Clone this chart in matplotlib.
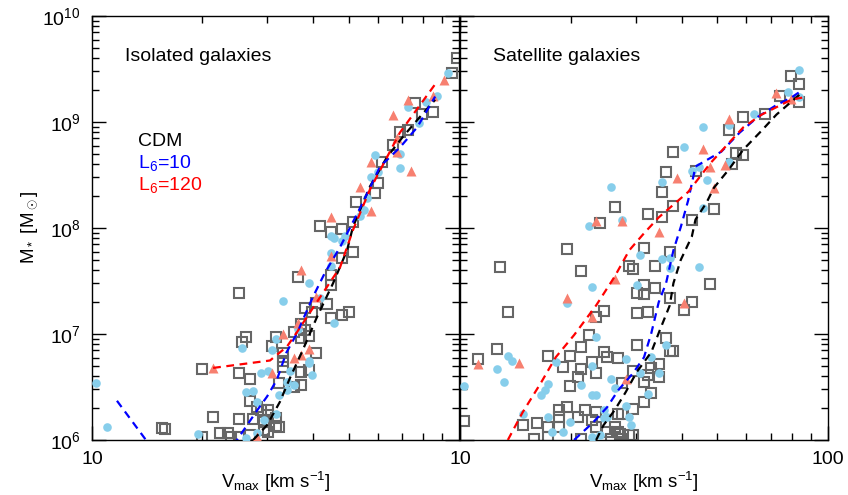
import numpy as np
import matplotlib
matplotlib.use("Agg")
import matplotlib.pyplot as plt
from matplotlib.ticker import LogLocator, NullFormatter, FixedLocator, FixedFormatter

plt.rcParams['font.family'] = ['Liberation Sans', 'DejaVu Sans']
plt.rcParams['mathtext.fontset'] = 'custom'
plt.rcParams['mathtext.rm'] = 'Liberation Sans'
plt.rcParams['mathtext.it'] = 'Liberation Sans:italic'

# values, stored as log10(Vmax [km/s]) and log10(M* [Msun])

# isolated galaxies
iso_cdm_lv = [1.19, 1.20, 1.30, 1.30, 1.33, 1.35, 1.37, 1.38, 1.40, 1.42, 1.41, 1.40, 1.43, 1.40, 1.44,
              1.43, 1.45, 1.46, 1.48, 1.48, 1.47, 1.50, 1.50, 1.51, 1.47, 1.48, 1.43, 1.40, 1.49, 1.50,
              1.52, 1.52, 1.52, 1.51, 1.55, 1.57, 1.58, 1.56, 1.58, 1.60, 1.61, 1.64, 1.65, 1.68, 1.70,
              1.57, 1.59, 1.61, 1.59, 1.57, 1.57, 1.55, 1.62, 1.65, 1.68, 1.71, 1.71, 1.68, 1.65, 1.65,
              1.72, 1.77, 1.78, 1.79, 1.82, 1.84, 1.86, 1.88, 1.90, 1.93, 1.98, 1.995]
iso_cdm_lm = [6.11, 6.10, 6.67, 6.03, 6.22, 6.07, 6.07, 6.03, 7.39, 6.97, 6.92, 6.63, 6.58, 6.20, 6.20,
              6.37, 6.31, 6.28, 6.28, 6.24, 6.17, 6.21, 6.13, 6.12, 6.09, 6.08, 6.05, 6.03, 6.89, 6.97,
              6.82, 6.75, 6.69, 6.54, 7.02, 6.96, 7.04, 7.54, 7.25, 7.21, 7.29, 7.28, 7.15, 7.18, 7.21,
              7.09, 6.98, 6.82, 6.66, 6.64, 6.52, 6.50, 8.02, 7.96, 7.99, 8.06, 7.77, 7.72, 7.56, 7.46,
              8.25, 8.33, 8.42, 8.62, 8.78, 8.91, 8.92, 9.18, 9.08, 9.09, 9.46, 9.60]

iso_l10_lv = [1.01, 1.04, 1.29, 1.41, 1.42, 1.44, 1.45, 1.46, 1.48, 1.42, 1.45, 1.47, 1.50, 1.49, 1.50,
              1.51, 1.52, 1.53, 1.53, 1.55, 1.54, 1.56, 1.59, 1.59, 1.59, 1.60, 1.62, 1.65, 1.65, 1.65,
              1.66, 1.68, 1.69, 1.66, 1.73, 1.74, 1.75, 1.76, 1.78, 1.77, 1.84, 1.84, 1.86, 1.89, 1.91,
              1.94, 1.97]
iso_l10_lm = [6.54, 6.12, 6.06, 6.87, 6.45, 6.46, 6.36, 6.63, 6.65, 6.02, 6.07, 6.19, 6.25, 6.85, 6.95,
              6.42, 7.31, 6.55, 6.47, 6.52, 6.65, 7.05, 7.48, 6.75, 6.73, 6.61, 7.34, 7.64, 7.76, 7.92,
              7.91, 7.88, 7.92, 7.10, 8.11, 8.17, 8.28, 8.48, 8.53, 8.69, 8.70, 8.57, 9.14, 8.99, 9.19,
              9.25, 9.46]

iso_l120_lv = [1.33, 1.45, 1.49, 1.52, 1.55, 1.56, 1.57, 1.57, 1.59, 1.61, 1.65, 1.65, 1.73, 1.76, 1.76,
               1.82, 1.83, 1.83, 1.86, 1.87, 1.93, 1.96]
iso_l120_lm = [6.68, 6.03, 6.63, 7.00, 6.77, 7.10, 7.60, 6.80, 6.86, 7.35, 7.74, 8.10, 8.39, 8.16, 8.62,
               9.07, 8.72, 8.85, 9.21, 8.54, 9.25, 9.40]

iso_cdm_line_lv = [1.439, 1.477, 1.512, 1.540, 1.572, 1.613, 1.657, 1.695, 1.711, 1.757, 1.804, 1.847, 1.894, 1.935]
iso_cdm_line_lm = [6.00, 6.14, 6.36, 6.59, 6.83, 7.16, 7.48, 7.79, 8.01, 8.39, 8.67, 8.86, 9.05, 9.21]
iso_l10_line_lv = [1.068, 1.147, 1.25, 1.35, 1.395, 1.450, 1.477, 1.504, 1.529, 1.559, 1.602, 1.635, 1.676,
                   1.738, 1.785, 1.839, 1.886, 1.935]
iso_l10_line_lm = [6.37, 6.00, 5.60, 5.70, 6.00, 6.28, 6.41, 6.57, 6.82, 7.01, 7.35, 7.58, 7.82,
                   8.24, 8.58, 8.76, 8.95, 9.24]
iso_l120_line_lv = [1.330, 1.485, 1.531, 1.559, 1.599, 1.676, 1.711, 1.757, 1.839, 1.940]
iso_l120_line_lm = [6.68, 6.75, 6.88, 7.02, 7.23, 7.63, 7.98, 8.36, 8.90, 9.38]

# satellite galaxies
sat_cdm_lv = [1.90, 1.92, 1.92, 1.87, 1.83, 1.77, 1.73, 1.75, 1.77, 1.74, 1.64, 1.58, 1.56, 1.55, 1.69,
              1.63, 1.58, 1.55, 1.51, 1.42, 1.38, 1.29, 1.50, 1.57, 1.68, 1.53, 1.46, 1.47, 1.33, 1.53,
              1.50, 1.48, 1.50, 1.57, 1.63, 1.61, 1.39, 1.48, 1.51, 1.11, 1.13, 1.37, 1.35, 1.33, 1.10,
              1.05, 1.01, 1.24, 1.30, 1.33, 1.32, 1.28, 1.30, 1.39, 1.40, 1.43, 1.48, 1.56, 1.57, 1.58,
              1.36, 1.37, 1.47, 1.54, 1.52, 1.54, 1.51, 1.50, 1.44, 1.52, 1.50, 1.47, 1.44, 1.43, 1.34,
              1.37, 1.36, 1.42, 1.46, 1.43, 1.40, 1.37, 1.435, 1.47, 1.17, 1.27, 1.29, 1.27, 1.32, 1.21,
              1.24, 1.27, 1.20, 1.24, 1.33, 1.41, 1.44]
sat_cdm_lm = [9.43, 9.36, 9.19, 9.25, 9.08, 9.05, 8.92, 8.71, 8.69, 8.60, 8.54, 8.72, 8.53, 8.34, 8.18,
              8.08, 8.21, 8.10, 8.13, 8.20, 8.05, 7.80, 7.81, 7.77, 7.47, 7.64, 7.64, 7.61, 7.59, 7.43,
              7.46, 7.39, 7.38, 7.34, 7.30, 7.23, 7.22, 7.20, 7.21, 7.63, 7.21, 7.16, 6.99, 6.88, 6.86,
              6.76, 6.18, 6.79, 6.79, 6.67, 6.59, 6.69, 6.51, 6.83, 6.78, 6.77, 6.90, 6.96, 6.84, 6.84,
              6.74, 6.63, 6.65, 6.72, 6.68, 6.59, 6.61, 6.55, 6.54, 6.44, 6.36, 6.29, 6.25, 6.25, 6.28,
              6.26, 6.19, 6.12, 6.05, 6.08, 6.08, 6.12, 6.06, 6.05, 6.14, 6.28, 6.31, 6.22, 6.22, 6.16,
              6.12, 6.12, 6.01, 6.03, 6.01, 6.01, 6.01]

sat_l10_lv = [1.92, 1.89, 1.92, 1.80, 1.73, 1.66, 1.61, 1.65, 1.63, 1.55, 1.67, 1.73, 1.66, 1.44, 1.41,
              1.35, 1.49, 1.55, 1.57, 1.57, 1.65, 1.36, 1.48, 1.29, 1.37, 1.56, 1.45, 1.52, 1.36, 1.49,
              1.54, 1.41, 1.42, 1.51, 1.45, 1.33, 1.36, 1.37, 1.46, 1.465, 1.39, 1.39, 1.40, 1.36, 1.38,
              1.13, 1.14, 1.10, 1.12, 1.01, 1.26, 1.24, 1.23, 1.22, 1.17, 1.24, 1.30, 1.25, 1.28]
sat_l10_lm = [9.49, 9.28, 9.24, 9.08, 8.97, 8.95, 8.76, 8.58, 8.54, 8.43, 8.45, 8.62, 8.19, 8.08, 8.39,
              8.02, 7.75, 7.71, 7.72, 7.62, 7.63, 7.44, 7.46, 7.29, 6.97, 6.90, 6.76, 6.78, 6.70, 6.63,
              6.63, 6.58, 6.49, 6.43, 6.32, 6.52, 6.42, 6.42, 6.22, 6.14, 6.28, 6.21, 6.22, 6.03, 6.05,
              6.79, 6.75, 6.67, 6.55, 6.51, 6.74, 6.53, 6.47, 6.42, 6.25, 6.22, 6.17, 6.08, 6.08]

sat_l120_lv = [1.86, 1.90, 1.73, 1.66, 1.59, 1.68, 1.72, 1.69, 1.37, 1.44, 1.54, 1.42, 1.29, 1.61, 1.36,
               1.45, 1.05, 1.16]
sat_l120_lm = [9.27, 9.22, 9.03, 8.75, 8.47, 8.58, 8.59, 8.38, 8.07, 8.07, 7.96, 7.52, 7.34, 7.29, 7.16,
               6.58, 6.72, 6.73]

sat_cdm_line_lv = [1.37, 1.39, 1.42, 1.45, 1.48, 1.52, 1.54, 1.57, 1.58, 1.60, 1.63, 1.64, 1.67, 1.69,
                   1.73, 1.77, 1.82, 1.86, 1.90, 1.93]
sat_cdm_line_lm = [6.00, 6.14, 6.28, 6.45, 6.64, 6.83, 7.01, 7.27, 7.48, 7.70, 7.92, 8.08, 8.24, 8.38,
                   8.55, 8.74, 8.92, 9.07, 9.19, 9.28]
sat_l10_line_lv = [1.31, 1.36, 1.40, 1.43, 1.47, 1.50, 1.52, 1.54, 1.56, 1.58, 1.60, 1.62, 1.64, 1.67,
                   1.71, 1.76, 1.81, 1.86, 1.90, 1.93]
sat_l10_line_lm = [6.00, 6.16, 6.31, 6.47, 6.63, 6.78, 7.01, 7.30, 7.48, 7.79, 8.01, 8.26, 8.58, 8.64,
                   8.72, 8.90, 9.05, 9.16, 9.23, 9.30]
sat_l120_line_lv = [1.13, 1.17, 1.22, 1.26, 1.31, 1.37, 1.42, 1.46, 1.50, 1.54, 1.62, 1.68, 1.73, 1.77,
                    1.82, 1.86, 1.90, 1.93]
sat_l120_line_lm = [6.00, 6.26, 6.54, 6.78, 6.99, 7.27, 7.54, 7.79, 7.95, 8.10, 8.34, 8.61, 8.80, 8.95,
                    9.07, 9.14, 9.21, 9.23]

grey = '#666666'
cblue = '#87CEEB'
csalmon = '#F78070'


def draw_panel(ax, cdm, l10, l120, lines):
    ax.plot(10**np.array(cdm[0]), 10**np.array(cdm[1]), 's', ms=6.5, mfc='none',
            mec=grey, mew=1.5, zorder=2)
    ax.plot(10**np.array(l10[0]), 10**np.array(l10[1]), 'o', ms=6.2, mfc=cblue,
            mec='none', zorder=3)
    ax.plot(10**np.array(l120[0]), 10**np.array(l120[1]), '^', ms=6.8, mfc=csalmon,
            mec='none', zorder=3)
    for (lv, lm), col in zip(lines, ['black', 'blue', 'red']):
        ax.plot(10**np.array(lv), 10**np.array(lm), '--', color=col, lw=1.6,
                dashes=(3.5, 2.5), zorder=4)
    ax.set_xscale('log')
    ax.set_yscale('log')
    ax.set_xlim(10, 100)
    ax.set_ylim(1e6, 1e10)
    ax.yaxis.set_major_locator(LogLocator(base=10, numticks=10))
    ax.yaxis.set_minor_locator(LogLocator(base=10, subs=np.arange(2, 10), numticks=10))
    ax.yaxis.set_minor_formatter(NullFormatter())
    ax.xaxis.set_minor_formatter(NullFormatter())
    ax.tick_params(which='both', direction='in', top=True, right=True, labelsize=14, width=1.0)
    ax.tick_params(which='major', length=10, pad=8)
    ax.tick_params(which='minor', length=5)
    for s in ax.spines.values():
        s.set_linewidth(1.0)
    ax.set_xlabel(r'V$_{\rm max}$ [km s$^{-1}$]', fontsize=13.5, labelpad=1)


fig = plt.figure(figsize=(8.48, 4.95), dpi=100)
ax1 = fig.add_axes([92/848, 55/495, 367/848, 424/495])
ax2 = fig.add_axes([460/848, 55/495, 368/848, 424/495])

draw_panel(ax1, (iso_cdm_lv, iso_cdm_lm), (iso_l10_lv, iso_l10_lm), (iso_l120_lv, iso_l120_lm),
           [(iso_cdm_line_lv, iso_cdm_line_lm), (iso_l10_line_lv, iso_l10_line_lm),
            (iso_l120_line_lv, iso_l120_line_lm)])
draw_panel(ax2, (sat_cdm_lv, sat_cdm_lm), (sat_l10_lv, sat_l10_lm), (sat_l120_lv, sat_l120_lm),
           [(sat_cdm_line_lv, sat_cdm_line_lm), (sat_l10_line_lv, sat_l10_line_lm),
            (sat_l120_line_lv, sat_l120_line_lm)])

ax1.xaxis.set_major_locator(FixedLocator([10]))
ax1.xaxis.set_major_formatter(FixedFormatter(['10']))
ax2.xaxis.set_major_locator(FixedLocator([10, 100]))
ax2.xaxis.set_major_formatter(FixedFormatter(['10', '100']))
ax2.tick_params(labelleft=False)

ax1.set_ylabel(r'M$_*$ [M$_\odot$]', fontsize=13.5, labelpad=2)

ax1.text(0.09, 0.905, 'Isolated galaxies', transform=ax1.transAxes, fontsize=14, va='center')
ax2.text(0.09, 0.905, 'Satellite galaxies', transform=ax2.transAxes, fontsize=14, va='center')
ax1.text(0.125, 0.705, 'CDM', transform=ax1.transAxes, fontsize=14, color='black', va='center')
ax1.text(0.125, 0.653, r'L$_6$=10', transform=ax1.transAxes, fontsize=14, color='blue', va='center')
ax1.text(0.125, 0.601, r'L$_6$=120', transform=ax1.transAxes, fontsize=14, color='red', va='center')

fig.savefig('out.png', dpi=100)
